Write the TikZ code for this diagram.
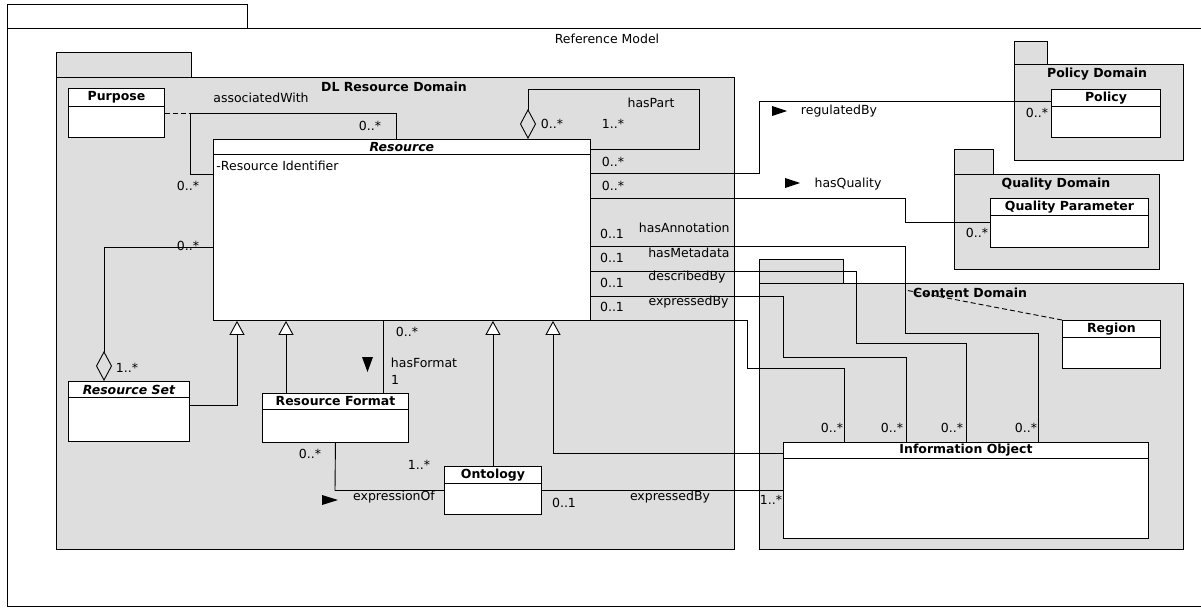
\documentclass[tikz,border=0pt]{standalone}
\usepackage{fontspec}
\setmainfont{DejaVu Sans}[Scale=1.25]
\usetikzlibrary{arrows.meta, calc, positioning}
\definecolor{pkggray}{RGB}{222,222,222}

\begin{document}
\begin{tikzpicture}[
  x=1pt, y=-1pt,
  line width=0.9pt,
  frm/.style={draw, anchor=north west, inner sep=0pt},
  pkg/.style={frm, fill=pkggray},
  cls/.style={frm, fill=white},
  ctitle/.style={font=\bfseries, inner sep=0pt, minimum height=17pt, anchor=north},
  ptitle/.style={font=\bfseries, inner sep=0pt},
  lbl/.style={inner sep=0pt},
  gen/.style={-{Triangle[width=15pt, length=14pt, fill=white]}},
  agg/.style={{Diamond[open, width=16pt, length=30pt]}-},
  assocdash/.style={dash pattern=on 5pt off 3pt},
]
  \useasboundingbox (0,0) rectangle (1201,609);

  % outer frame
  \node[frm, minimum width=240, minimum height=24] (modeltab) at (7,4) {};
  \node[frm, minimum width=1200, minimum height=578] (model) at (7,28) {};
  \node[lbl] (modelT) at (607,39) {Reference Model};

  % packages
  \node[pkg, minimum width=135, minimum height=25] (dltab) at (56,52) {};
  \node[pkg, minimum width=678, minimum height=472] (dl) at (56,77) {};
  \node[ptitle] (dlT) at (394,87) {DL Resource Domain};

  \node[pkg, minimum width=33, minimum height=23] (poltab) at (1014,41) {};
  \node[pkg, minimum width=169, minimum height=96] (pol) at (1014,64) {};
  \node[ptitle] (polT) at (1097,74) {Policy Domain};

  \node[pkg, minimum width=39, minimum height=25] (qualtab) at (954,149) {};
  \node[pkg, minimum width=205, minimum height=95] (qual) at (954,174) {};
  \node[ptitle] (qualT) at (1056,184) {Quality Domain};

  \node[pkg, minimum width=84, minimum height=24] (contab) at (759,259) {};
  \node[pkg, minimum width=424, minimum height=266] (con) at (759,283) {};
  \node[ptitle] (conT) at (970,293) {Content Domain};

  % classes
  \node[cls, minimum width=96, minimum height=49] (purpose) at (68,88) {};
  \node[ctitle, minimum height=18] (purpose-t) at (purpose.north) {Purpose};
  \node[cls, minimum width=377, minimum height=181] (resource) at (213,139) {};
  \node[ctitle, minimum height=15, font=\bfseries\itshape] (resource-t) at (resource.north) {Resource};
  \node[lbl, anchor=west] (resattr) at (216,166) {-Resource Identifier};
  \node[cls, minimum width=121, minimum height=60] (rset) at (68,381) {};
  \node[ctitle, minimum height=16, font=\bfseries\itshape] (rset-t) at (rset.north) {Resource Set};
  \node[cls, minimum width=146, minimum height=49] (rformat) at (262,393) {};
  \node[ctitle, minimum height=16] (rformat-t) at (rformat.north) {Resource Format};
  \node[cls, minimum width=97, minimum height=48] (ontology) at (444,466) {};
  \node[ctitle] (ontology-t) at (ontology.north) {Ontology};
  \node[cls, minimum width=109, minimum height=48] (policy) at (1051,89) {};
  \node[ctitle] (policy-t) at (policy.north) {Policy};
  \node[cls, minimum width=158, minimum height=49] (qparam) at (990,198) {};
  \node[ctitle] (qparam-t) at (qparam.north) {Quality Parameter};
  \node[cls, minimum width=98, minimum height=48] (region) at (1062,320) {};
  \node[ctitle] (region-t) at (region.north) {Region};
  \node[cls, minimum width=365, minimum height=96] (infoobj) at (783,442) {};
  \node[ctitle, minimum height=16] (infoobj-t) at (infoobj.north) {Information Object};

  \foreach \c in {purpose, resource, rset, rformat, ontology, policy, qparam, region, infoobj}
    \draw (\c-t.south -| \c.west) -- (\c-t.south -| \c.east);

  % associatedWith (Purpose is the association class)
  \coordinate (aw1) at (190,174);
  \coordinate (aw2) at (190,113);
  \coordinate (aw3) at (396,113);
  \draw (resource.west |- aw1) -- (aw1) -- (aw2) -- (aw3) -- (aw3 |- resource.north);
  \draw[assocdash] (purpose.east |- aw2) -- (aw2);

  % hasPart
  \coordinate (hp1) at (528,89);
  \coordinate (hp2) at (699,89);
  \coordinate (hp3) at (699,149);
  \draw[agg] (hp1 |- resource.north) -- (hp1) -- (hp2) -- (hp3) -- (hp3 -| resource.east);

  % regulatedBy
  \coordinate (rb1) at (759,173);
  \coordinate (rb2) at (759,101);
  \draw (resource.east |- rb1) -- (rb1) -- (rb2) -- (rb2 -| policy.west);

  % hasQuality
  \coordinate (hq1) at (905,198);
  \coordinate (hq2) at (905,222);
  \draw (resource.east |- hq1) -- (hq1) -- (hq2) -- (hq2 -| qparam.west);

  % rows to the information object
  \foreach \ya/\xa/\yb/\xb [count=\i] in {246/905/333/1038, 271/856/343/966, 296/783/357/906, 320/747/368/844} {
    \coordinate (io\i a) at (\xa,\ya);
    \coordinate (io\i b) at (\xa,\yb);
    \coordinate (io\i c) at (\xb,\yb);
    \draw (resource.east |- io\i a) -- (io\i a) -- (io\i b) -- (io\i c) -- (io\i c |- infoobj.north);
  }
  \coordinate (rgm) at (905,290);
  \draw[assocdash] (region.north west) -- (rgm);

  % generalisations
  \coordinate (g1) at (237,405);
  \draw[gen] (rset.east |- g1) -- (g1) -- (g1 |- resource.south);
  \coordinate (g2) at (286,393);
  \draw[gen] (g2 |- rformat.north) -- (g2 |- resource.south);
  \draw[gen] (ontology.north) -- (ontology.north |- resource.south);
  \coordinate (g4) at (553,453);
  \draw[gen] (infoobj.west |- g4) -- (g4) -- (g4 |- resource.south);

  % Resource Set aggregation
  \coordinate (rs1) at (104,247);
  \draw[agg] (rs1 |- rset.north) -- (rs1) -- (rs1 -| resource.west);

  % hasFormat, expressionOf, expressedBy
  \coordinate (hf) at (383,350);
  \draw (hf |- resource.south) -- (hf |- rformat.north);
  \coordinate (eo) at (335,490.5);
  \draw (rformat.south) -- (eo) -- (eo -| ontology.west);
  \draw (ontology.east) -- (ontology.east -| infoobj.west);

  % association names
  \node[lbl] (lAw) at (261,98) {associatedWith};
  \node[lbl] (lHp) at (651,103) {hasPart};
  \node[lbl] (lRb) at (839,111) {regulatedBy};
  \node[lbl] (lHq) at (848,184) {hasQuality};
  \node[lbl, anchor=east] (lHa) at (730,228) {hasAnnotation};
  \node[lbl, anchor=east] (lHm) at (730,253) {hasMetadata};
  \node[lbl, anchor=east] (lDb) at (726,277) {describedBy};
  \node[lbl, anchor=east] (lEb) at (729,302) {expressedBy};
  \node[lbl] (lHf) at (424,363) {hasFormat};
  \node[lbl] (lEo) at (394,497) {expressionOf};
  \node[lbl] (lEb2) at (670,497) {expressedBy};

  % multiplicities
  \foreach \x/\y/\t [count=\i] in {370/126/0..*, 188/186/0..*, 552/124/0..*, 613/124/1..*,
      613/162/0..*, 613/186/0..*, 612/234/0..1, 612/258/0..1, 612/283/0..1, 612/307/0..1,
      1037/113/0..*, 977/233/0..*, 832/428/0..*, 892/428/0..*, 952/428/0..*, 1026/428/0..*,
      127/368/1..*, 188/246/0..*, 407/332/0..*, 395/380/1, 310/454/0..*, 419/465/1..*,
      564/503/0..1, 771/500/1..*}
    \node[lbl] (m\i) at (\x,\y) {\t};

  % reading direction marks
  \fill (772,106) -- (787,111) -- (772,116) -- cycle;
  \fill (785,178) -- (800,183) -- (785,188) -- cycle;
  \fill (322,495) -- (338,500) -- (322,505) -- cycle;
  \fill (362,357) -- (373,357) -- (367.5,372) -- cycle;
\end{tikzpicture}
\end{document}
